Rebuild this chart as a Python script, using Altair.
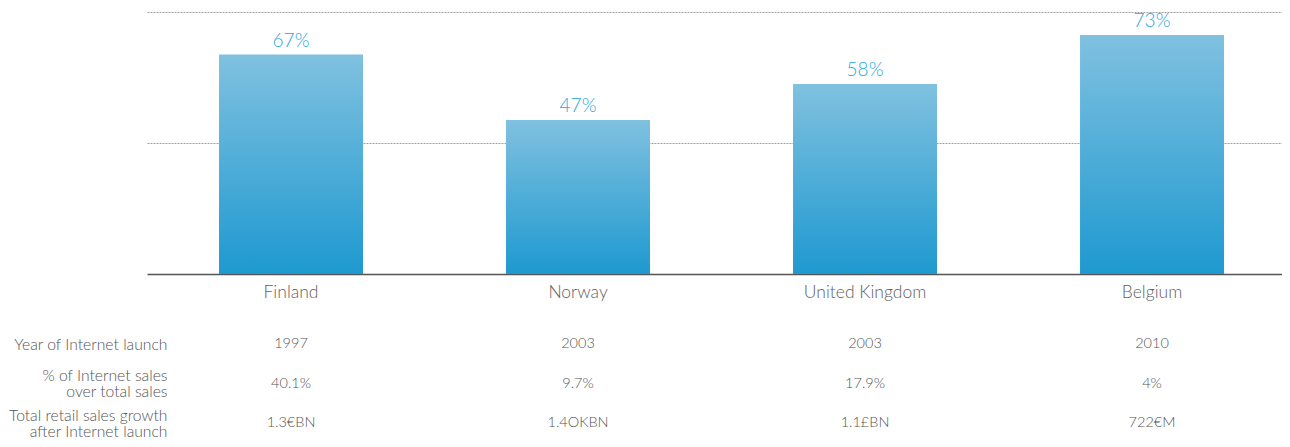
import altair as alt
import pandas as pd

countries = ["Finland", "Norway", "United Kingdom", "Belgium"]
share = [67, 47, 58, 73]
share_labels = ["67%", "47%", "58%", "73%"]

row_names = [
    "Year of Internet launch",
    "% of Internet sales|over total sales",
    "Total retail sales growth|after Internet launch",
]
launch_year = ["1997", "2003", "2003", "2010"]
internet_share = ["40.1%", "9.7%", "17.9%", "4%"]
retail_growth = ["1.3€BN", "1.4OKBN", "1.1£BN", "722€M"]

FONT = "Lato"
W, H = 1135, 262

bars_df = pd.DataFrame({"country": countries, "share": share, "label": share_labels})
rows = []
for r, vals in zip(row_names, [launch_year, internet_share, retail_growth]):
    for c, v in zip(countries, vals):
        rows.append({"country": c, "row": r, "value": v})
table_df = pd.DataFrame(rows)

xscale = alt.Scale(domain=countries, paddingInner=0.4983, paddingOuter=0.2265, align=0.554)
yscale = alt.Scale(domain=[0, 80], nice=False, zero=True)

xaxis = alt.Axis(
    title=None, ticks=False, labelFontSize=17.5, labelFont=FONT, labelFontWeight=300,
    labelColor="#606060", labelPadding=9, domainColor="#555555", domainWidth=1.5,
    labelAngle=0,
)

bars = alt.Chart(bars_df).mark_bar(
    color=alt.Gradient(
        gradient="linear",
        stops=[alt.GradientStop(color="#80c1e0", offset=0),
               alt.GradientStop(color="#1e99d0", offset=1)],
        x1=0, x2=0, y1=0, y2=1,
    )
).encode(
    x=alt.X("country:N", scale=xscale, axis=xaxis, sort=countries),
    y=alt.Y("share:Q", scale=yscale, axis=alt.Axis(
        title=None, labels=False, ticks=False, domain=False, values=[40, 80],
        grid=True, gridDash=[2, 1], gridColor="#a0a0a0", gridWidth=1,
    )),
)

labels = alt.Chart(bars_df).mark_text(
    baseline="bottom", dy=-4, fontSize=19, font=FONT, fontWeight=300, color="#2aa8e0",
).encode(
    x=alt.X("country:N", scale=xscale, sort=countries),
    y=alt.Y("share:Q", scale=yscale, axis=None),
    text="label:N",
)

table = alt.Chart(table_df).mark_text(
    fontSize=14.5, font=FONT, fontWeight=300, color="#555555", baseline="middle",
).encode(
    x=alt.X("country:N", scale=xscale, sort=countries),
    y=alt.Y("row:N", sort=row_names,
            scale=alt.Scale(type="point", domain=row_names, range=[332, 411], padding=0),
            axis=alt.Axis(
                orient="left", title=None, ticks=False, domain=False, grid=False,
                labelAlign="right", labelBaseline="middle", labelPadding=-20,
                labelFontSize=15.7, labelFont=FONT, labelFontWeight=300,
                labelColor="#555555", labelLineHeight=16, labelLimit=300,
                labelExpr="split(datum.label, '|')",
                labelOffset=alt.ConditionalAxisNumber(
                    condition={"test": "indexof(datum.label, '|') >= 0", "value": -8},
                    value=0,
                ),
            )),
    text="value:N",
)

chart = alt.layer(bars, labels, table).resolve_scale(y="independent").properties(
    width=W, height=H,
    autosize=alt.AutoSizeParams(type="none"),
    padding={"left": 139, "top": 4, "right": 0, "bottom": 165},
).configure_view(stroke=None)

chart.save("out.html", embed_options={"renderer": "svg", "actions": False})
